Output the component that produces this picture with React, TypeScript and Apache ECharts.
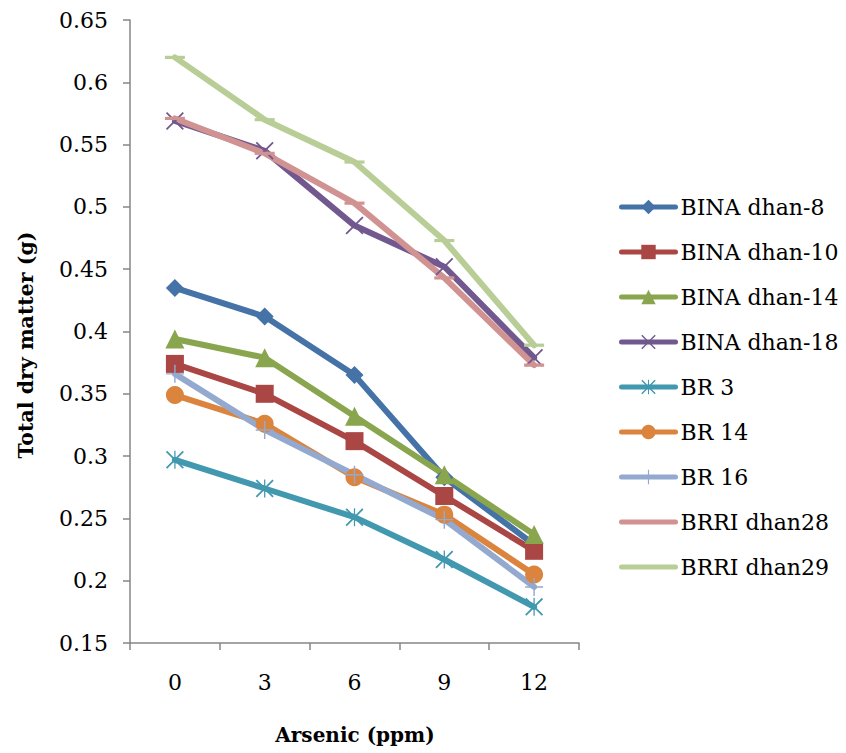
import React, { useEffect, useRef } from "react";
import * as echarts from "echarts";

const categories = ["0", "3", "6", "9", "12"];
const seriesNames = [
  "BINA dhan-8",
  "BINA dhan-10",
  "BINA dhan-14",
  "BINA dhan-18",
  "BR 3",
  "BR 14",
  "BR 16",
  "BRRI dhan28",
  "BRRI dhan29",
];
const bina8 = [0.435, 0.412, 0.365, 0.283, 0.229];
const bina10 = [0.374, 0.35, 0.312, 0.268, 0.224];
const bina14 = [0.394, 0.379, 0.332, 0.285, 0.237];
const bina18 = [0.569, 0.545, 0.485, 0.452, 0.379];
const br3 = [0.297, 0.274, 0.251, 0.217, 0.179];
const br14 = [0.349, 0.326, 0.283, 0.253, 0.205];
const br16 = [0.366, 0.321, 0.285, 0.249, 0.195];
const brri28 = [0.571, 0.543, 0.503, 0.443, 0.373];
const brri29 = [0.62, 0.57, 0.536, 0.473, 0.389];
const yTicks = { min: 0.15, max: 0.65, interval: 0.05 };

const colors = ["#4572A7", "#AA4643", "#89A54E", "#71588F", "#4198AF", "#DB843D", "#93A9CF", "#D19392", "#B9CD96"];

const X_PATH = "path://M0,1.4 L1.4,0 L20,18.6 L18.6,20 Z M18.6,0 L20,1.4 L1.4,20 L0,18.6 Z";
const STAR_PATH = "path://M0,1.4 L1.4,0 L20,18.6 L18.6,20 Z M18.6,0 L20,1.4 L1.4,20 L0,18.6 Z M9.3,0 L10.7,0 L10.7,20 L9.3,20 Z";
const PLUS_PATH = "path://M9.2,0 L10.8,0 L10.8,20 L9.2,20 Z M0,9.2 L20,9.2 L20,10.8 L0,10.8 Z";
const DASH_PATH = "path://M0,0 L20,0 L20,8 L0,8 Z";

const symbols: any[] = ["diamond", "rect", "triangle", X_PATH, STAR_PATH, "circle", PLUS_PATH, DASH_PATH, DASH_PATH];
const sizes: any[] = [18, 18, 19, 18, 18, 18, 18, [20, 8], [20, 8]];
const hideLegendSymbol = [false, false, false, false, false, false, false, true, true];

const FONT = "DejaVu Serif";

export default function App() {
  const ref = useRef<HTMLDivElement>(null);
  useEffect(() => {
    if (!ref.current) return;
    const chart = echarts.init(ref.current, undefined, { renderer: "svg" });
    const allData = [bina8, bina10, bina14, bina18, br3, br14, br16, brri28, brri29];
    const series = allData.map((d, i) => ({
      name: seriesNames[i],
      type: "line",
      data: d,
      symbol: symbols[i],
      symbolSize: sizes[i],
      symbolKeepAspect: true,
      showAllSymbol: true,
      lineStyle: { width: 6, color: colors[i], cap: "round", join: "round" },
      itemStyle: { color: colors[i] },
      emphasis: { disabled: true },
    }));
    const labelStyle = { color: "#000", fontSize: 22, fontFamily: FONT };
    chart.setOption({
      animation: false,
      backgroundColor: "#ffffff",
      textStyle: { fontFamily: FONT },
      grid: { left: 130, right: 267, top: 20, bottom: 110, containLabel: false },
      xAxis: {
        type: "category",
        data: categories,
        boundaryGap: true,
        axisLine: { lineStyle: { color: "#868686", width: 1.5 } },
        axisTick: { show: true, length: 7, inside: false, lineStyle: { color: "#868686", width: 1.5 } },
        axisLabel: { ...labelStyle, margin: 28 },
        splitLine: { show: false },
      },
      yAxis: {
        type: "value",
        min: yTicks.min,
        max: yTicks.max,
        interval: yTicks.interval,
        axisLine: { show: true, lineStyle: { color: "#868686", width: 1.5 } },
        axisTick: { show: true, length: 7, inside: false, lineStyle: { color: "#868686", width: 1.5 } },
        axisLabel: { ...labelStyle, margin: 22 },
        splitLine: { show: false },
      },
      legend: {
        orient: "vertical",
        left: 614,
        top: 187,
        itemWidth: 54,
        itemHeight: 18,
        itemGap: 15,
        lineStyle: { width: 5, cap: "round" },
        textStyle: { ...labelStyle, fontSize: 22, lineHeight: 30 },
        data: seriesNames.map((n, i) =>
          hideLegendSymbol[i] ? { name: n, itemStyle: { opacity: 0 } } : { name: n }
        ),
      },
      graphic: [
        {
          type: "text",
          x: 26,
          y: 345,
          rotation: Math.PI / 2,
          style: {
            text: "Total dry matter (g)",
            fontFamily: FONT,
            fontSize: 20.5,
            fontWeight: "bold",
            fill: "#000",
            textAlign: "center",
            textVerticalAlign: "middle",
          },
        },
        {
          type: "text",
          x: 355,
          y: 735,
          style: {
            text: "Arsenic (ppm)",
            fontFamily: FONT,
            fontSize: 20,
            fontWeight: "bold",
            fill: "#000",
            textAlign: "center",
            textVerticalAlign: "middle",
          },
        },
      ],
      series,
    });
    return () => chart.dispose();
  }, []);
  return <div ref={ref} style={{ position: "absolute", left: 0, top: 0, width: 846, height: 753 }} />;
}
